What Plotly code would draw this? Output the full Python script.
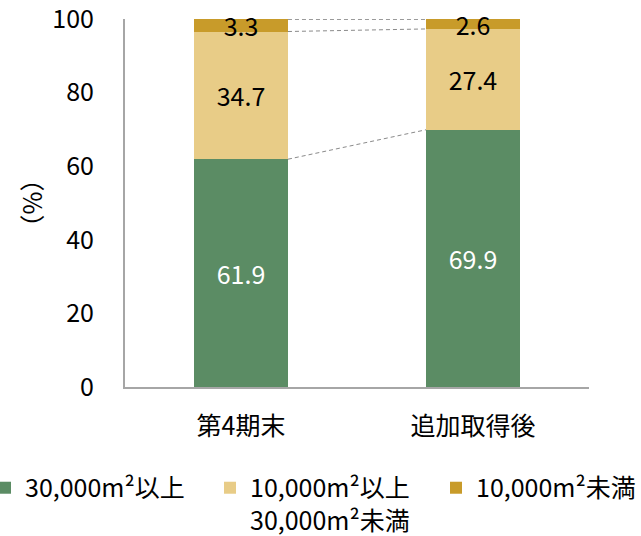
import plotly.graph_objects as go

categories = ["第4期末", "追加取得後"]
series_names = ["30,000m²以上", "10,000m²以上<br>30,000m²未満", "10,000m²未満"]
large = [61.9, 69.9]
medium = [34.7, 27.4]
small = [3.3, 2.6]
y_ticks = [0, 20, 40, 60, 80, 100]

colors = ["#5B8C64", "#E8CC87", "#C89B2A"]
label_colors = ["white", "black", "black"]
FONT = "Noto Sans CJK JP, Noto Sans, sans-serif"
FS = 25
bar_w = 0.405
xpos = list(range(len(categories)))

# plot area geometry (pixels) used to place the three legend boxes
M_L, M_R, M_T, M_B = 125, 52, 19, 149
W, H = 641, 536
plot_w = W - M_L - M_R
legend_left_px = [0, 210, 437]
legend_indent = [-15, 0, 0]
legend_ids = ["legend", "legend2", "legend3"]

fig = go.Figure()
for name, vals, col, lc, lid in zip(series_names, [large, medium, small], colors, label_colors, legend_ids):
    fig.add_trace(go.Bar(
        x=xpos, y=vals, name=name, marker=dict(color=col, line=dict(width=0)),
        width=bar_w, text=[f"{v:.1f}" for v in vals], textposition="inside",
        insidetextanchor="middle", textangle=0, legend=lid,
        textfont=dict(color=lc, size=FS, family=FONT), cliponaxis=False,
    ))

# dashed connector lines between segment tops
cum = [0, 0]
levels = []
for vals in [large, medium, small]:
    cum = [c + v for c, v in zip(cum, vals)]
    levels.append(list(cum))
for lev in levels:
    fig.add_trace(go.Scatter(
        x=[xpos[0] + bar_w / 2, xpos[1] - bar_w / 2], y=[min(lev[0], 100), min(lev[1], 100)],
        mode="lines", line=dict(color="#8a8a8a", width=1, dash="4px,3px"),
        showlegend=False, hoverinfo="skip", cliponaxis=False,
    ))

legend_common = dict(orientation="h", xref="paper", xanchor="left",
                     yref="container", y=0.1325, yanchor="top",
                     font=dict(size=FS, family=FONT), valign="top",
                     itemwidth=30, itemclick=False, bgcolor="rgba(0,0,0,0)")
legend_layouts = {}
for lid, lx, ind in zip(legend_ids, legend_left_px, legend_indent):
    legend_layouts[lid] = dict(legend_common, x=(lx - M_L) / plot_w, indentation=ind)

fig.update_layout(
    barmode="stack",
    width=W, height=H,
    margin=dict(l=M_L, r=M_R, t=M_T, b=M_B),
    plot_bgcolor="white", paper_bgcolor="white",
    font=dict(family=FONT, size=FS, color="black"),
    uniformtext=dict(mode="show", minsize=FS),
    showlegend=True,
    **legend_layouts,
)
fig.update_xaxes(
    range=[-0.5, 1.5], tickvals=xpos, ticktext=categories, automargin=False,
    showline=True, linecolor="#a6a6a6", linewidth=2, ticks="",
    tickfont=dict(size=FS, family=FONT), ticklabelstandoff=16,
    ticklabeloverflow="allow",
)
fig.update_yaxes(
    range=[0, 100], tickvals=y_ticks, showgrid=False, zeroline=False, automargin=False,
    showline=True, linecolor="#a6a6a6", linewidth=2, ticks="",
    tickfont=dict(size=FS, family=FONT), ticklabelstandoff=24,
    ticklabeloverflow="allow",
    title=dict(text="（%）", font=dict(size=FS, family=FONT), standoff=3),
)
fig.write_html("out.html")
